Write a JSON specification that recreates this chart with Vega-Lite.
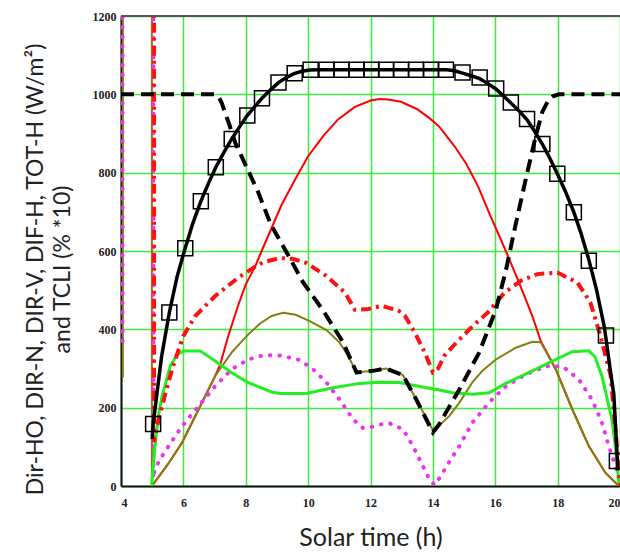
{
  "$schema": "https://vega.github.io/schema/vega-lite/v6.json",
  "width": 499,
  "height": 470,
  "autosize": {"type": "none"},
  "padding": {"left": 121, "top": 16, "right": 0, "bottom": 69},
  "background": "white",
  "config": {
    "view": {"stroke": null},
    "axis": {
      "ticks": false,
      "domainColor": "#111",
      "domainWidth": 2,
      "gridColor": "#3dea3d",
      "gridWidth": 1.5,
      "gridOpacity": 1
    }
  },
  "datasets": {
    "olive": [{"t":4.06,"v":277},{"t":4.06,"v":1300},{"t":4.99,"v":1300},{"t":4.99,"v":0},{"t":5.5,"v":55},{"t":5.96,"v":111},{"t":6.49,"v":196},{"t":7.02,"v":281},{"t":7.55,"v":341},{"t":8.08,"v":387},{"t":8.46,"v":415},{"t":8.83,"v":434},{"t":9.2,"v":442},{"t":9.6,"v":437},{"t":10.05,"v":421},{"t":10.59,"v":398},{"t":11.01,"v":366},{"t":11.3,"v":330},{"t":11.55,"v":290},{"t":12.08,"v":294},{"t":12.5,"v":300},{"t":13.04,"v":283},{"t":13.46,"v":222},{"t":14.02,"v":140},{"t":14.53,"v":179},{"t":14.85,"v":213},{"t":15.27,"v":265},{"t":15.6,"v":295},{"t":16.02,"v":323},{"t":16.66,"v":353},{"t":17.19,"v":368},{"t":17.46,"v":367},{"t":17.94,"v":298},{"t":18.47,"v":196},{"t":19.0,"v":102},{"t":19.53,"v":34},{"t":19.96,"v":0}],
    "redthin": [{"t":4.99,"v":0},{"t":5.5,"v":55},{"t":5.96,"v":111},{"t":6.49,"v":196},{"t":7.02,"v":281},{"t":7.18,"v":310},{"t":7.44,"v":383},{"t":7.76,"v":462},{"t":8.0,"v":515},{"t":8.3,"v":560},{"t":8.51,"v":600},{"t":9.15,"v":718},{"t":9.6,"v":785},{"t":10.0,"v":842},{"t":10.5,"v":895},{"t":10.96,"v":936},{"t":11.5,"v":968},{"t":12.03,"v":985},{"t":12.3,"v":988},{"t":12.56,"v":987},{"t":12.98,"v":981},{"t":13.5,"v":962},{"t":13.94,"v":936},{"t":14.21,"v":917},{"t":14.69,"v":868},{"t":15.06,"v":824},{"t":15.45,"v":765},{"t":15.8,"v":698},{"t":16.34,"v":600},{"t":16.76,"v":520},{"t":17.19,"v":434},{"t":17.46,"v":370},{"t":17.94,"v":298},{"t":18.47,"v":196},{"t":19.0,"v":102},{"t":19.53,"v":34},{"t":19.96,"v":0}],
    "magenta": [{"t":4.05,"v":370},{"t":4.05,"v":1300},{"t":5.04,"v":1300},{"t":5.04,"v":20},{"t":5.08,"v":43},{"t":5.32,"v":77},{"t":5.53,"v":102},{"t":5.96,"v":153},{"t":6.49,"v":204},{"t":7.02,"v":255},{"t":7.55,"v":298},{"t":8.08,"v":323},{"t":8.46,"v":332},{"t":8.83,"v":334},{"t":9.1,"v":333},{"t":9.73,"v":322},{"t":10.16,"v":298},{"t":10.59,"v":264},{"t":11.01,"v":221},{"t":11.44,"v":170},{"t":11.76,"v":148},{"t":12.0,"v":150},{"t":12.3,"v":157},{"t":12.61,"v":160},{"t":13.04,"v":145},{"t":13.36,"v":102},{"t":13.68,"v":51},{"t":13.89,"v":17},{"t":14.05,"v":3},{"t":14.21,"v":20},{"t":14.53,"v":62},{"t":14.85,"v":102},{"t":15.27,"v":162},{"t":15.8,"v":213},{"t":16.34,"v":255},{"t":16.98,"v":285},{"t":17.62,"v":306},{"t":18.15,"v":306},{"t":18.68,"v":272},{"t":19.1,"v":221},{"t":19.42,"v":162},{"t":19.64,"v":102},{"t":19.85,"v":51},{"t":20.0,"v":10}],
    "green": [{"t":4.98,"v":0},{"t":5.1,"v":110},{"t":5.2,"v":180},{"t":5.32,"v":230},{"t":5.58,"v":306},{"t":5.8,"v":335},{"t":6.0,"v":345},{"t":6.54,"v":345},{"t":7.02,"v":319},{"t":7.55,"v":289},{"t":8.08,"v":264},{"t":8.83,"v":240},{"t":9.1,"v":236},{"t":9.95,"v":236},{"t":10.8,"v":251},{"t":11.65,"v":262},{"t":12.3,"v":265},{"t":12.93,"v":264},{"t":13.78,"v":251},{"t":14.21,"v":245},{"t":14.63,"v":238},{"t":15.27,"v":234},{"t":15.8,"v":238},{"t":16.34,"v":262},{"t":17.19,"v":294},{"t":17.94,"v":323},{"t":18.47,"v":343},{"t":19.0,"v":345},{"t":19.2,"v":330},{"t":19.42,"v":281},{"t":19.74,"v":170},{"t":19.85,"v":102},{"t":19.97,"v":0}],
    "reddash": [{"t":5.06,"v":1300},{"t":5.06,"v":112},{"t":5.15,"v":150},{"t":5.26,"v":187},{"t":5.42,"v":235},{"t":5.64,"v":298},{"t":5.85,"v":349},{"t":6.0,"v":383},{"t":6.38,"v":434},{"t":7.02,"v":485},{"t":7.76,"v":532},{"t":8.2,"v":555},{"t":8.55,"v":571},{"t":9.09,"v":582},{"t":9.5,"v":580},{"t":9.93,"v":570},{"t":10.57,"v":537},{"t":11.18,"v":494},{"t":11.5,"v":450},{"t":11.93,"v":452},{"t":12.36,"v":460},{"t":12.89,"v":448},{"t":13.1,"v":435},{"t":13.42,"v":392},{"t":13.74,"v":341},{"t":14.0,"v":290},{"t":14.17,"v":300},{"t":14.37,"v":333},{"t":14.8,"v":370},{"t":15.3,"v":410},{"t":15.76,"v":443},{"t":16.3,"v":494},{"t":16.82,"v":524},{"t":17.35,"v":541},{"t":17.99,"v":545},{"t":18.63,"v":520},{"t":19.05,"v":469},{"t":19.37,"v":384},{"t":19.7,"v":282},{"t":19.9,"v":103},{"t":20.0,"v":0}],
    "blackdash": [{"t":4.0,"v":1000},{"t":7.0,"v":1000},{"t":7.12,"v":995},{"t":7.23,"v":978},{"t":7.45,"v":928},{"t":7.66,"v":877},{"t":8.08,"v":805},{"t":8.4,"v":750},{"t":8.8,"v":668},{"t":9.3,"v":598},{"t":9.84,"v":520},{"t":10.48,"v":448},{"t":11.12,"v":367},{"t":11.55,"v":290},{"t":12.08,"v":294},{"t":12.5,"v":300},{"t":13.04,"v":283},{"t":13.46,"v":222},{"t":14.0,"v":137},{"t":14.2,"v":157},{"t":14.42,"v":188},{"t":14.84,"v":245},{"t":15.48,"v":340},{"t":16.02,"v":450},{"t":16.34,"v":550},{"t":16.66,"v":670},{"t":16.98,"v":784},{"t":17.3,"v":894},{"t":17.51,"v":955},{"t":17.7,"v":985},{"t":17.85,"v":995},{"t":18.04,"v":1000},{"t":20.0,"v":1000}],
    "tot": [{"t":5.0,"v":120},{"t":5.03,"v":158},{"t":5.3,"v":330},{"t":5.55,"v":443},{"t":5.8,"v":535},{"t":6.05,"v":605},{"t":6.3,"v":670},{"t":6.55,"v":725},{"t":6.8,"v":772},{"t":7.04,"v":814},{"t":7.3,"v":852},{"t":7.55,"v":886},{"t":7.8,"v":917},{"t":8.04,"v":945},{"t":8.3,"v":970},{"t":8.52,"v":990},{"t":8.8,"v":1012},{"t":9.05,"v":1030},{"t":9.3,"v":1043},{"t":9.55,"v":1053},{"t":9.8,"v":1059},{"t":10.06,"v":1062},{"t":10.3,"v":1063},{"t":14.45,"v":1063},{"t":14.7,"v":1060},{"t":14.95,"v":1054},{"t":15.2,"v":1048},{"t":15.5,"v":1040},{"t":15.75,"v":1028},{"t":16.03,"v":1013},{"t":16.25,"v":997},{"t":16.5,"v":978},{"t":16.75,"v":959},{"t":17.02,"v":935},{"t":17.25,"v":907},{"t":17.51,"v":873},{"t":17.75,"v":837},{"t":17.99,"v":797},{"t":18.25,"v":752},{"t":18.52,"v":699},{"t":18.75,"v":645},{"t":19.0,"v":578},{"t":19.25,"v":500},{"t":19.5,"v":405},{"t":19.7,"v":290},{"t":19.8,"v":235},{"t":19.88,"v":120},{"t":19.93,"v":40}],
    "squares": [{"t":5.03,"v":158},{"t":5.55,"v":443},{"t":6.06,"v":607},{"t":6.56,"v":727},{"t":7.04,"v":814},{"t":7.55,"v":886},{"t":8.05,"v":946},{"t":8.52,"v":990},{"t":9.05,"v":1030},{"t":9.57,"v":1054},{"t":10.08,"v":1063},{"t":10.59,"v":1063},{"t":11.07,"v":1063},{"t":11.55,"v":1063},{"t":12.03,"v":1063},{"t":12.5,"v":1063},{"t":12.98,"v":1063},{"t":13.46,"v":1063},{"t":13.94,"v":1063},{"t":14.42,"v":1063},{"t":14.95,"v":1056},{"t":15.5,"v":1043},{"t":16.03,"v":1015},{"t":16.5,"v":979},{"t":17.02,"v":937},{"t":17.51,"v":873},{"t":17.99,"v":797},{"t":18.52,"v":699},{"t":19.0,"v":575},{"t":19.55,"v":384},{"t":19.9,"v":64}],
    "frame": [{"a":4,"b":20,"y":1200}]
  },
  "encoding": {
    "x": {
      "field": "t", "type": "quantitative",
      "scale": {"domain": [4, 20], "nice": false, "zero": false},
      "axis": {
        "values": [4, 6, 8, 10, 12, 14, 16, 18, 20],
        "format": "d",
        "labelFont": "Liberation Serif",
        "labelFontWeight": "bold",
        "labelFontSize": 12,
        "labelColor": "#222",
        "labelFlush": true,
        "labelPadding": 11,
        "title": "Solar time (h)",
        "titleFont": "Lato",
        "titleFontWeight": "normal",
        "titleColor": "#222",
        "titleFontSize": 25,
        "titleY": 59,
        "titleBaseline": "alphabetic"
      }
    },
    "y": {
      "field": "v", "type": "quantitative",
      "scale": {"domain": [0, 1200], "nice": false},
      "axis": {
        "values": [0, 200, 400, 600, 800, 1000, 1200],
        "format": "d",
        "labelFont": "Liberation Serif",
        "labelFontWeight": "bold",
        "labelFontSize": 12,
        "labelColor": "#222",
        "labelPadding": 5,
        "title": ["Dir-HO, DIR-N, DIR-V, DIF-H, TOT-H (W/m²)", "and TCLI (% *10)"],
        "titleFont": "Lato",
        "titleFontWeight": "normal",
        "titleColor": "#222",
        "titleFontSize": 23,
        "titleLineHeight": 27,
        "titleAngle": -90,
        "titleAlign": "center",
        "titleBaseline": "top",
        "titleX": -97,
        "titleY": 253
      }
    },
    "order": {"value": null}
  },
  "layer": [
    {"data": {"name": "redthin"}, "mark": {"type": "line", "color": "#ff0000", "strokeWidth": 2, "clip": true}},
    {"data": {"name": "olive"}, "mark": {"type": "line", "color": "#857d14", "strokeWidth": 2, "clip": true}},
    {"data": {"name": "magenta"}, "mark": {"type": "line", "color": "#ee33ee", "strokeWidth": 4, "strokeDash": [0.5, 9], "strokeCap": "round", "clip": true}},
    {"data": {"name": "green"}, "mark": {"type": "line", "color": "#22ee22", "strokeWidth": 3, "clip": true}},
    {"data": {"name": "reddash"}, "mark": {"type": "line", "color": "#ff1111", "strokeWidth": 4, "strokeDash": [10, 5, 3, 5], "clip": true}},
    {"data": {"name": "blackdash"}, "mark": {"type": "line", "color": "#000000", "strokeWidth": 4, "strokeDash": [13, 7], "clip": true}},
    {"data": {"name": "tot"}, "mark": {"type": "line", "color": "#000000", "strokeWidth": 3.5, "clip": true}},
    {"data": {"name": "squares"}, "mark": {"type": "point", "shape": "square", "filled": false, "size": 225, "color": "#000000", "strokeWidth": 1.5, "opacity": 1, "clip": true}},
    {"data": {"name": "frame"}, "mark": {"type": "rule", "color": "#555555", "strokeWidth": 2},
     "encoding": {"x": {"field": "a", "type": "quantitative"}, "x2": {"field": "b"}, "y": {"field": "y", "type": "quantitative"}}}
  ]
}
